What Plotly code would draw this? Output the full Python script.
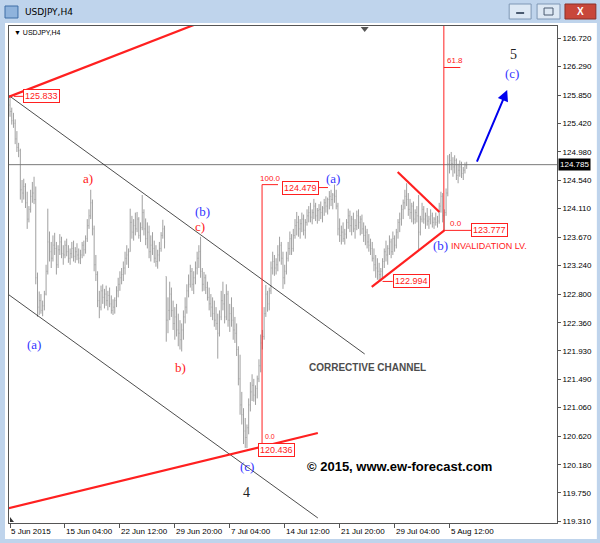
import plotly.graph_objects as go

# ---------------- data ----------------
highs = [
    125.83, 125.66, 125.58, 125.48, 125.30, 125.12, 125.03, 124.55, 124.57, 124.50,
    124.37, 124.15, 124.40, 124.52, 124.60, 124.45, 123.13, 122.84, 122.80, 122.70,
    122.85, 123.25, 124.11, 123.76, 123.60, 123.70, 123.74, 123.60, 123.55, 123.72,
    123.68, 123.55, 123.62, 123.65, 123.55, 123.50, 123.60, 123.62, 123.52, 123.58,
    123.50, 123.48, 123.60, 123.62, 123.70, 123.95, 124.10, 124.40, 124.25, 123.85,
    123.40, 123.15, 122.85, 122.93, 122.95, 122.88, 122.93, 122.85, 122.90, 122.78,
    122.72, 122.75, 122.92, 123.05, 123.15, 123.20, 123.30, 123.45, 123.55, 123.50,
    124.11, 124.00, 123.95, 124.05, 124.06, 123.98, 123.90, 124.32, 124.10, 123.96,
    123.90, 123.85, 123.70, 123.75, 123.62, 123.55, 123.48, 123.60, 123.75, 123.94,
    123.85, 123.07, 122.75, 122.99, 122.90, 122.70, 122.60, 122.65, 122.50, 122.40,
    122.35, 122.55, 122.75, 122.95, 123.10, 123.25, 123.20, 123.15, 123.30, 123.45,
    123.55, 123.68, 123.20, 123.14, 123.10, 122.99, 122.90, 122.80, 122.75, 122.70,
    122.60, 122.50, 122.55, 122.85, 122.99, 122.80, 122.95, 122.85, 122.65, 122.75,
    122.60, 122.45, 122.35, 122.00, 121.87, 121.30, 121.05, 120.90, 120.80, 121.20,
    121.45, 121.57, 121.50, 121.40, 121.55, 121.80, 122.18, 122.25, 122.60, 122.94,
    122.85, 122.90, 123.30, 123.45, 123.40, 123.35, 123.55, 123.68, 123.60, 123.45,
    123.25, 123.45, 123.60, 123.76, 123.72, 123.80, 123.95, 124.06, 124.00, 123.95,
    124.05, 124.02, 123.95, 124.10, 124.15, 124.20, 124.10, 124.26, 124.20, 124.12,
    124.18, 124.22, 124.15, 124.26, 124.30, 124.28, 124.38, 124.40, 124.35, 124.48,
    124.40, 124.20, 123.96, 123.85, 123.90, 123.80, 123.95, 124.11, 124.08, 124.00,
    124.05, 123.95, 124.08, 124.10, 124.00, 124.02, 123.90, 123.85, 123.80, 123.72,
    123.65, 123.60, 123.50, 123.40, 123.35, 123.28, 123.20, 123.35, 123.50, 123.62,
    123.55, 123.70, 123.65, 123.76, 123.70, 123.80, 123.95, 124.05, 124.17, 124.25,
    124.40, 124.50, 124.35, 124.26, 124.20, 124.22, 124.10, 124.15, 124.32, 124.00,
    124.20, 124.15, 124.05, 124.12, 124.00, 124.10, 124.05, 123.98, 124.05, 124.00,
    124.20, 124.37, 124.35, 124.10, 124.42, 124.93, 124.95, 124.98, 124.90, 124.93,
    124.88, 124.80, 124.85, 124.83, 124.75, 124.82, 124.83,
]
lows = [
    125.52, 125.40, 125.35, 125.10, 124.98, 124.90, 124.25, 124.20, 124.25, 124.12,
    123.80, 123.90, 124.05, 124.20, 124.18, 122.95, 122.45, 122.48, 122.50, 122.46,
    122.55, 122.78, 123.10, 123.30, 123.20, 123.30, 123.40, 123.10, 123.20, 123.40,
    123.35, 123.25, 123.35, 123.38, 123.28, 123.25, 123.35, 123.30, 123.28, 123.32,
    123.27, 123.26, 123.35, 123.38, 123.42, 123.60, 123.80, 123.95, 123.70, 123.15,
    123.00, 122.60, 122.43, 122.55, 122.65, 122.58, 122.62, 122.55, 122.60, 122.50,
    122.48, 122.50, 122.60, 122.75, 122.85, 122.95, 123.00, 123.10, 123.25, 123.20,
    123.45, 123.65, 123.62, 123.70, 123.75, 123.65, 123.60, 123.78, 123.70, 123.55,
    123.50, 123.35, 123.30, 123.40, 123.28, 123.22, 123.19, 123.30, 123.45, 123.65,
    123.50, 122.07, 122.20, 122.40, 122.45, 122.25, 122.10, 122.15, 122.00, 121.95,
    121.92, 122.10, 122.35, 122.50, 122.75, 122.90, 122.85, 122.80, 122.95, 123.10,
    123.20, 123.05, 122.84, 122.85, 122.80, 122.70, 122.55, 122.45, 122.40, 122.30,
    122.25, 121.81, 122.15, 122.40, 122.55, 122.35, 122.40, 122.30, 122.22, 122.30,
    122.10, 122.05, 121.85, 121.40, 120.95, 120.80, 120.50, 120.44, 120.436, 120.65,
    121.00, 121.16, 121.15, 121.10, 121.20, 121.45, 121.60, 121.95, 122.10, 122.45,
    122.53, 122.55, 122.80, 123.10, 123.08, 123.10, 123.15, 123.30, 123.25, 122.88,
    122.95, 123.10, 123.30, 123.40, 123.40, 123.45, 123.65, 123.70, 123.68, 123.65,
    123.75, 123.70, 123.65, 123.85, 123.90, 123.90, 123.87, 123.95, 123.92, 123.88,
    123.92, 123.95, 123.90, 124.00, 124.05, 124.02, 124.10, 124.15, 124.10, 124.20,
    124.10, 123.70, 123.60, 123.56, 123.60, 123.56, 123.65, 123.80, 123.75, 123.70,
    123.75, 123.65, 123.78, 123.80, 123.70, 123.72, 123.60, 123.55, 123.50, 123.45,
    123.40, 123.30, 123.15, 123.05, 123.02, 123.00, 122.994, 123.05, 123.20, 123.30,
    123.25, 123.40, 123.35, 123.40, 123.45, 123.50, 123.65, 123.75, 123.85, 123.95,
    124.10, 124.15, 124.00, 123.95, 123.90, 123.87, 123.88, 123.90, 123.48, 123.70,
    123.90, 123.88, 123.80, 123.85, 123.80, 123.87, 123.82, 123.80, 123.85, 123.82,
    123.88, 124.05, 123.90, 123.777, 124.00, 124.30, 124.65, 124.70, 124.60, 124.65,
    124.55, 124.50, 124.60, 124.58, 124.55, 124.65, 124.72,
]
closes = [
    125.60, 125.46, 125.42, 125.18, 125.05, 125.00, 124.40, 124.35, 124.45, 124.20,
    123.95, 124.10, 124.30, 124.35, 124.25, 123.05, 122.60, 122.70, 122.55, 122.62,
    122.80, 123.15, 123.60, 123.45, 123.35, 123.55, 123.50, 123.25, 123.48, 123.60,
    123.42, 123.40, 123.55, 123.45, 123.35, 123.42, 123.50, 123.38, 123.45, 123.40,
    123.35, 123.40, 123.55, 123.48, 123.65, 123.85, 124.00, 124.20, 123.80, 123.25,
    123.10, 122.70, 122.60, 122.85, 122.75, 122.80, 122.70, 122.78, 122.65, 122.55,
    122.60, 122.70, 122.85, 122.95, 123.05, 123.10, 123.20, 123.35, 123.40, 123.45,
    123.90, 123.75, 123.85, 123.80, 123.95, 123.70, 123.82, 124.05, 123.80, 123.65,
    123.75, 123.45, 123.55, 123.50, 123.35, 123.30, 123.40, 123.50, 123.70, 123.80,
    123.60, 122.40, 122.55, 122.80, 122.55, 122.35, 122.45, 122.25, 122.20, 122.10,
    122.25, 122.45, 122.60, 122.85, 122.95, 123.15, 122.95, 123.05, 123.20, 123.35,
    123.45, 123.15, 122.95, 123.05, 122.90, 122.75, 122.65, 122.60, 122.50, 122.40,
    122.35, 122.20, 122.45, 122.70, 122.65, 122.45, 122.80, 122.40, 122.50, 122.40,
    122.25, 122.20, 121.95, 121.50, 121.10, 120.95, 120.70, 120.60, 120.75, 121.10,
    121.30, 121.40, 121.25, 121.35, 121.50, 121.70, 122.05, 122.15, 122.50, 122.80,
    122.65, 122.85, 123.20, 123.30, 123.20, 123.25, 123.40, 123.55, 123.35, 123.05,
    123.15, 123.35, 123.50, 123.65, 123.50, 123.70, 123.85, 123.90, 123.80, 123.88,
    123.95, 123.78, 123.90, 124.00, 124.05, 123.98, 124.05, 124.15, 124.00, 124.08,
    124.10, 124.05, 124.12, 124.20, 124.15, 124.25, 124.30, 124.25, 124.32, 124.30,
    124.15, 123.80, 123.70, 123.75, 123.65, 123.72, 123.90, 124.00, 123.85, 123.95,
    123.80, 123.85, 124.00, 123.90, 123.95, 123.80, 123.70, 123.75, 123.60, 123.55,
    123.50, 123.35, 123.25, 123.20, 123.15, 123.10, 123.15, 123.30, 123.45, 123.40,
    123.50, 123.60, 123.45, 123.65, 123.55, 123.75, 123.90, 123.95, 124.10, 124.20,
    124.30, 124.25, 124.10, 124.05, 124.15, 123.95, 124.05, 124.00, 123.75, 123.95,
    124.10, 123.95, 124.00, 123.92, 123.95, 124.00, 123.90, 123.95, 123.90, 123.92,
    124.15, 124.30, 124.00, 124.05, 124.35, 124.80, 124.85, 124.80, 124.75, 124.85,
    124.62, 124.70, 124.75, 124.65, 124.70, 124.78, 124.785,
]
first_open = 125.70

date_ticks = [0, 32, 64, 96, 128, 160, 192, 224, 256]
date_labels = ["5 Jun 2015", "15 Jun 04:00", "22 Jun 12:00", "29 Jun 20:00",
               "7 Jul 04:00", "14 Jul 12:00", "21 Jul 20:00", "29 Jul 04:00",
               "5 Aug 12:00"]
price_ticks = [126.720, 126.290, 125.850, 125.420, 124.980, 124.540, 124.110,
               123.670, 123.240, 122.800, 122.360, 121.930, 121.490, 121.060,
               120.620, 120.180, 119.750, 119.310]
last_price = 124.785

start_high = 125.833
fib_low = 120.436
fib_high = 124.479
triangle_low = 122.994
wave_b_low = 123.777
fib_ext_ratio = 0.618

# drawn lines: (bar index list, price list)
red_upper_line = ([-1, 110], [125.823, 126.958])
channel_upper = ([-1, 206.6], [125.852, 121.881])
channel_lower = ([-1, 179.3], [122.795, 119.366])
red_lower_line = ([-1, 179.3], [119.513, 120.670])
triangle_lower = ([210.7, 253.0], [122.909, 123.777])
triangle_upper = ([225.8, 250.1], [124.673, 124.060])
projection = ([271.6, 289.6], [124.81, 125.93])

# ---------------- geometry ----------------
W, H = 600, 543
L, R, T, B = 8, 558, 26, 523
BAR_PX = 1.723
X0 = -0.6
X1 = X0 + (R - L) / BAR_PX
Y1 = 126.912
Y0 = 119.289


def px(x):
    return (x - L) / (R - L)


def py(y):
    return (B - y) / (B - T)


n = len(closes)
bars = list(range(n))
opens = [first_open] + closes[:-1]
opens = [min(max(o, lo), hi) for o, lo, hi in zip(opens, lows, highs)]

BAR_COL = "#a0a0a0"
RED = "#ff2020"
BLUE = "#3434ff"
SERIF = "Liberation Serif"
SANS = "Liberation Sans"

fig = go.Figure()

fig.add_trace(go.Ohlc(
    x=bars, open=opens, high=highs, low=lows, close=closes,
    increasing=dict(line=dict(color=BAR_COL, width=1)),
    decreasing=dict(line=dict(color=BAR_COL, width=1)),
    tickwidth=0.3, hoverinfo="skip", showlegend=False))


def line(xy, color, width):
    fig.add_trace(go.Scatter(x=xy[0], y=xy[1], mode="lines",
                             line=dict(color=color, width=width),
                             hoverinfo="skip", showlegend=False))


# bid line
line(([X0 - 5, X1 + 5], [last_price, last_price]), "#7a7a7a", 1)
# channel
line(channel_upper, "#202020", 0.8)
line(channel_lower, "#202020", 0.8)
line(red_upper_line, RED, 2.2)
line(red_lower_line, RED, 2.2)
line(triangle_lower, RED, 2.2)
line(triangle_upper, RED, 2.2)

# fibonacci retracement of the rally from the low
fib1_x = 146.8
line(([fib1_x, fib1_x], [fib_low, fib_high]), RED, 1)
line(([fib1_x, 156.1], [fib_high, fib_high]), RED, 1)
line(([fib1_x, 156.1], [fib_low, fib_low]), RED, 1)
# fibonacci extension from wave (b)
fib2_x = 252.7
ext_618 = wave_b_low + fib_ext_ratio * (fib_high - fib_low)
ext_100 = wave_b_low + (fib_high - fib_low)
line(([fib2_x, fib2_x], [wave_b_low, ext_100 + 1]), RED, 1)
line(([fib2_x, 262.3], [ext_618, ext_618]), RED, 1)
line(([fib2_x, 268.5], [wave_b_low, wave_b_low]), RED, 1)
# connectors of price labels
line(([2.3, 7.5], [start_high, start_high]), RED, 1)
line(([178.7, 185.2], [fib_high - 0.045, fib_high - 0.045]), RED, 1)
line(([217.0, 222.9], [triangle_low, triangle_low]), RED, 1)

ann = []


def txt(x, y, text, color, size, family=SERIF, xanchor="center", yanchor="middle",
        bold=False, **kw):
    d = dict(x=x, y=y, xref="x", yref="y", text=("<b>%s</b>" % text) if bold else text,
             showarrow=False, xanchor=xanchor, yanchor=yanchor,
             font=dict(color=color, size=size, family=family))
    d.update(kw)
    ann.append(d)


# wave labels
txt(45.3, 124.58, "a)", RED, 13)
txt(112.0, 124.07, "(b)", BLUE, 13)
txt(110.8, 123.83, "c)", RED, 13)
txt(99.2, 121.68, "b)", RED, 13)
txt(13.9, 122.02, "(a)", BLUE, 13)
txt(138.1, 120.15, "(c)", BLUE, 13)
txt(137.5, 119.75, "4", "#222222", 14)
txt(188.0, 124.58, "(a)", BLUE, 13)
txt(250.7, 123.54, "(b)", BLUE, 13)
txt(255.6, 123.54, "INVALIDATION LV.", RED, 9, family=SANS, xanchor="left")
txt(293.0, 126.47, "5", "#222222", 14)
txt(292.5, 126.19, "(c)", BLUE, 13)
txt(208.3, 121.68, "CORRECTIVE CHANNEL", "#4d4d4d", 10, family=SANS, bold=True)
txt(226.9, 120.15, "© 2015, www.ew-forecast.com", "#000000", 13, family=SANS, bold=True)

# fib level texts
txt(144.6, fib_high, "100.0", RED, 8, family=SANS, xanchor="left", yanchor="bottom")
txt(147.3, fib_low, "0.0", RED, 7, family=SANS, xanchor="left", yanchor="bottom", yshift=6)
txt(253.1, ext_618, "61.8", RED, 8, family=SANS, xanchor="left", yanchor="bottom")
txt(255.2, wave_b_low, "0.0", RED, 8, family=SANS, xanchor="left", yanchor="bottom")


def box(x, y, value, yshift=0):
    ann.append(dict(x=x, y=y, xref="x", yref="y", text="%.3f" % value,
                    showarrow=False, xanchor="left", yanchor="middle", yshift=yshift,
                    bgcolor="white", bordercolor=RED, borderwidth=1, borderpad=1,
                    font=dict(color=RED, size=9, family=SANS)))


box(7.5, start_high, start_high)
box(158.4, fib_high, fib_high, yshift=-3)
box(222.9, triangle_low, triangle_low)
box(268.7, wave_b_low, wave_b_low)
box(144.5, fib_low, fib_low, yshift=-2)

# projection arrow
ann.append(dict(x=projection[0][1], y=projection[1][1], ax=projection[0][0],
                ay=projection[1][0], xref="x", yref="y", axref="x", ayref="y",
                text="", showarrow=True, arrowhead=2, arrowsize=1.1, arrowwidth=2,
                arrowcolor="#0000ee", standoff=0, startstandoff=0))

# current price box on the axis
ann.append(dict(x=px(559), y=last_price, xref="paper", yref="y", text="%.3f" % last_price,
                showarrow=False, xanchor="left", yanchor="middle", bgcolor="black",
                borderpad=1, font=dict(color="white", size=8, family=SANS)))

# time axis labels (left aligned at their ticks, MT4 style)
for b, lab in zip(date_ticks, date_labels):
    ann.append(dict(x=b, y=py(531), xref="x", yref="paper", text=lab, showarrow=False,
                    xanchor="left", yanchor="middle", xshift=-1,
                    font=dict(color="#000000", size=8, family=SANS)))

# window chrome texts
ann.append(dict(x=px(22), y=py(12), xref="paper", yref="paper", text="USDJPY,H4",
                showarrow=False, xanchor="left", yanchor="middle",
                font=dict(color="#000000", size=9, family="DejaVu Sans")))
ann.append(dict(x=px(11), y=py(33), xref="paper", yref="paper", text="▼ USDJPY,H4",
                showarrow=False, xanchor="left", yanchor="middle",
                font=dict(color="#000000", size=7, family=SANS)))
ann.append(dict(x=px(581.5), y=py(11.5), xref="paper", yref="paper", text="<b>X</b>",
                showarrow=False, xanchor="center", yanchor="middle",
                font=dict(color="white", size=10, family=SANS)))

shapes = []


def rect(x0, y0, x1, y1, fill, line_col=None, lw=1, layer="below"):
    shapes.append(dict(type="rect", xref="paper", yref="paper",
                       x0=px(x0), x1=px(x1), y0=py(y1), y1=py(y0),
                       fillcolor=fill, layer=layer,
                       line=dict(color=line_col or fill, width=lw if line_col else 0)))


# white client area of the window
rect(4, 23, 598, 539, "white")
# title bar widgets
rect(4, 6, 17, 18, "#8fb3dc", "#3f6ea6", 1, layer="above")
rect(510, 4, 532, 19, "#dde8f4", "#7f97b5", 1, layer="above")
rect(517, 12, 525, 14, "#4a5a70", layer="above")
rect(538, 4, 561, 19, "#dde8f4", "#7f97b5", 1, layer="above")
rect(545, 8, 554, 15, "rgba(0,0,0,0)", "#4a5a70", 1, layer="above")
rect(566, 4, 597, 19, "#c8473a", "#8a3028", 1, layer="above")

# chart-shift marker and corner marker
shapes.append(dict(type="path", xref="paper", yref="paper", layer="above",
                   path="M %f %f L %f %f L %f %f Z" % (px(361), py(27), px(369), py(27), px(365), py(32)),
                   fillcolor="#555555", line=dict(width=0)))
shapes.append(dict(type="path", xref="paper", yref="paper", layer="above",
                   path="M %f %f L %f %f L %f %f Z" % (px(9), py(517), px(9), py(522), px(13), py(522)),
                   fillcolor="#333333", line=dict(width=0)))

fig.update_layout(
    width=W, height=H,
    margin=dict(l=L, r=W - R, t=T, b=H - B, pad=0),
    paper_bgcolor="#bfd4ec", plot_bgcolor="white",
    showlegend=False, hovermode=False, dragmode=False,
    annotations=ann, shapes=shapes,
    xaxis=dict(range=[X0, X1], showgrid=False, zeroline=False, rangeslider=dict(visible=False),
               tickmode="array", tickvals=date_ticks, ticktext=[""] * len(date_ticks),
               ticks="outside", ticklen=4, tickcolor="#555555", showticklabels=False,
               showline=True, linecolor="#555555", linewidth=1, mirror=True, fixedrange=True),
    yaxis=dict(range=[Y0, Y1], side="right", showgrid=False, zeroline=False,
               tickmode="array", tickvals=price_ticks,
               ticktext=["%.3f" % v for v in price_ticks],
               ticks="outside", ticklen=3, tickcolor="#555555",
               tickfont=dict(size=8, family=SANS, color="#000000"),
               showline=True, linecolor="#555555", linewidth=1, mirror=True, fixedrange=True),
)

fig.write_html("out.html", config={"displayModeBar": False, "staticPlot": True},
               post_script="document.body.style.margin='0';document.body.style.padding='0';")
